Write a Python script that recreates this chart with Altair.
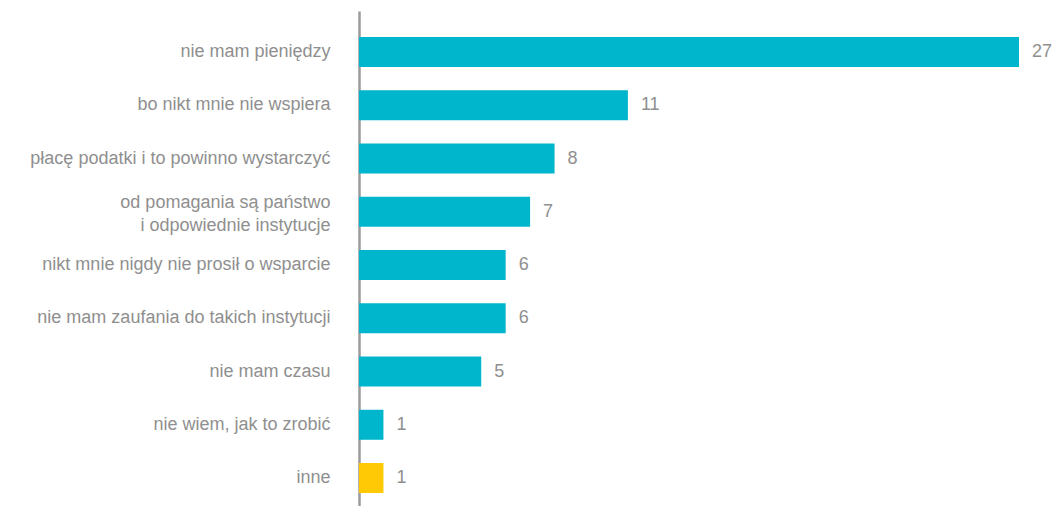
import altair as alt
import pandas as pd

categories = [
    "nie mam pieniędzy",
    "bo nikt mnie nie wspiera",
    "płacę podatki i to powinno wystarczyć",
    "od pomagania są państwo\ni odpowiednie instytucje",
    "nikt mnie nigdy nie prosił o wsparcie",
    "nie mam zaufania do takich instytucji",
    "nie mam czasu",
    "nie wiem, jak to zrobić",
    "inne",
]
values = [27, 11, 8, 7, 6, 6, 5, 1, 1]
groups = ["main"] * 8 + ["other"]

df = pd.DataFrame({"cat": categories, "val": values, "grp": groups})

W, H = 660, 495
FONT = "Liberation Sans"
GRAY = "#8f8f8f"
FS = 18

y_enc = alt.Y(
    "cat:N",
    sort=categories,
    scale=alt.Scale(paddingInner=0.4366, paddingOuter=0.366, align=0.667),
    axis=alt.Axis(
        title=None,
        ticks=False,
        labelPadding=29,
        labelFont=FONT,
        labelFontSize=FS,
        labelColor=GRAY,
        labelLineHeight=23,
        labelLimit=400,
        labelExpr="split(datum.label, '\\n')",
        labelOffset={
            "condition": {"test": "indexof(datum.value, '\\n') >= 0", "value": -9},
            "value": 0,
        },
        domain=True,
        domainColor="#9b9b9b",
        domainWidth=2.5,
        grid=False,
    ),
)
x_enc = alt.X(
    "val:Q",
    scale=alt.Scale(domain=[0, 27], nice=False, zero=True),
    axis=None,
)

bars = alt.Chart(df).mark_bar().encode(
    y=y_enc,
    x=x_enc,
    color=alt.Color(
        "grp:N",
        scale=alt.Scale(domain=["main", "other"], range=["#00b6cd", "#ffca05"]),
        legend=None,
    ),
)

labels = alt.Chart(df).mark_text(
    align="left", baseline="middle", dx=13, font=FONT, fontSize=FS, color=GRAY
).encode(
    y=alt.Y("cat:N", sort=categories),
    x=alt.X("val:Q"),
    text=alt.Text("val:Q"),
)

chart = (
    alt.layer(bars, labels)
    .properties(
        width=W,
        height=H,
        background="white",
        autosize=alt.AutoSizeParams(type="none"),
        padding={"left": 351, "top": 3, "right": 34, "bottom": 0},
    )
    .configure_view(strokeWidth=0, stroke=None)
)

chart.save("out.html", embed_options={"renderer": "svg", "actions": False})
